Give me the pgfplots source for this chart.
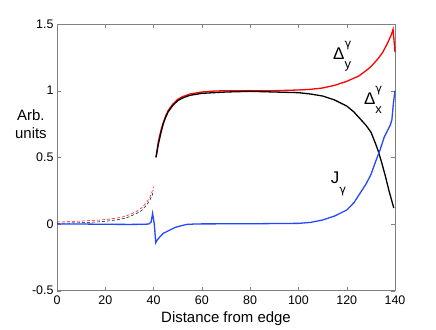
\documentclass[border=0pt]{standalone}
\usepackage{pgfplots}
\pgfplotsset{compat=1.18}
\usepackage{fontspec}
\setmainfont{Liberation Sans}
\newfontfamily\gfont{DejaVu Sans}
\definecolor{jblue}{rgb}{0.15,0.28,1.0}

\newcommand{\lab}[3]{{\fontsize{17}{17}\selectfont #1\rlap{\raisebox{12bp}{\gfont\fontsize{11.5}{11.5}\selectfont #2}}\raisebox{-9bp}{\fontsize{13}{13}\selectfont #3}}}

\begin{document}
\begin{tikzpicture}
\begin{axis}[
    scale only axis,
    width=338bp, height=266.7bp,
    xmin=0, xmax=140, ymin=-0.5, ymax=1.5,
    xtick={0,20,...,140},
    ytick={-0.5,0,0.5,1,1.5},
    yticklabels={-0.5,0,0.5,1,1.5},
    tick align=inside,
    xtick pos=both, ytick pos=both,
    major tick length=4bp,
    axis line style={gray},
    tick style={gray},
    /pgf/number format/assume math mode=true,
    ticklabel style={font=\fontsize{12.5}{14}\selectfont},
    xticklabel style={yshift=-2bp},
    xlabel={Distance from edge},
    xlabel style={font=\fontsize{15}{17}\selectfont, at={(axis description cs:0.5,0)}, anchor=base, yshift=-32bp},
    clip=false,
]
\coordinate (sw) at (rel axis cs:0,0);

% dashed curves, x < 40
\addplot[red, line width=0.5bp, dash pattern=on 3bp off 2bp] coordinates {
(0,0.015) (5,0.018) (10,0.022) (15,0.027) (20,0.033) (25,0.045) (28,0.057) (30,0.07) (33,0.095) (35,0.12) (37,0.16) (38.5,0.2) (39.5,0.25) (40,0.28)};
\addplot[black, line width=0.5bp, dash pattern=on 3bp off 2bp] coordinates {
(0,0.005) (5,0.007) (10,0.01) (15,0.014) (20,0.02) (25,0.032) (28,0.043) (30,0.055) (33,0.08) (35,0.10) (37,0.14) (38.5,0.18) (39.5,0.22) (40,0.25)};

% Delta_y
\addplot[red, line width=1.3bp] coordinates {
(41,0.50) (42,0.62) (43,0.70) (44,0.76) (45,0.81) (46,0.85) (48,0.90) (50,0.935) (52,0.955) (55,0.975) (60,0.99) (65,0.997) (70,1.0) (80,1.0) (90,1.0) (100,1.005) (105,1.01) (110,1.02) (115,1.04) (120,1.07) (125,1.11) (128,1.15) (130,1.18) (133,1.24) (135,1.29) (137,1.36) (138.5,1.42) (139.2,1.46) (140,1.29)};

% Delta_x
\addplot[black, line width=1.3bp] coordinates {
(41,0.50) (42,0.60) (43,0.68) (44,0.75) (45,0.80) (46,0.84) (48,0.89) (50,0.925) (52,0.945) (55,0.965) (60,0.98) (70,0.99) (80,0.995) (90,0.99) (100,0.985) (105,0.975) (110,0.96) (115,0.93) (120,0.885) (123,0.84) (126,0.78) (128,0.74) (130,0.69) (132,0.60) (133,0.55) (134.5,0.46) (136,0.36) (137.5,0.25) (139.5,0.12)};

% J_gamma
\addplot[jblue, line width=1.3bp] coordinates {
(0,0) (10,0) (20,-0.002) (30,-0.003) (36,-0.002) (38,0.0) (39,0.015) (39.6,0.08) (40.3,0.0) (40.9,-0.14) (41.5,-0.12) (42.7,-0.095) (44,-0.07) (46.8,-0.045) (49,-0.025) (51,-0.015) (53.7,-0.003) (57,0.0) (60,0.001) (80,0.002) (100,0.005) (105,0.012) (110,0.03) (115,0.06) (120,0.105) (123,0.16) (125.5,0.23) (128,0.30) (130,0.37) (132,0.47) (133.8,0.555) (135.5,0.65) (137,0.705) (138,0.74) (138.7,0.78) (139.3,0.9) (140,1.0)};

\node[align=center, font=\fontsize{15}{18}\selectfont] at (axis cs:-10.8,0.75) {Arb.\\units};
\node[inner sep=0pt] at (axis cs:118.1,1.26) {\lab{Δ}{γ}{y}};
\node[inner sep=0pt] at (axis cs:130.9,0.93) {\lab{Δ}{γ}{x}};
\node[inner sep=0pt] at (axis cs:116.6,0.30) {{\fontsize{17}{17}\selectfont J\raisebox{-10bp}{\gfont\fontsize{11.5}{11.5}\selectfont γ}}};
\end{axis}
\path (sw) ++(-57bp,-36.3bp) rectangle ++(436bp,327bp);
\end{tikzpicture}
\end{document}
